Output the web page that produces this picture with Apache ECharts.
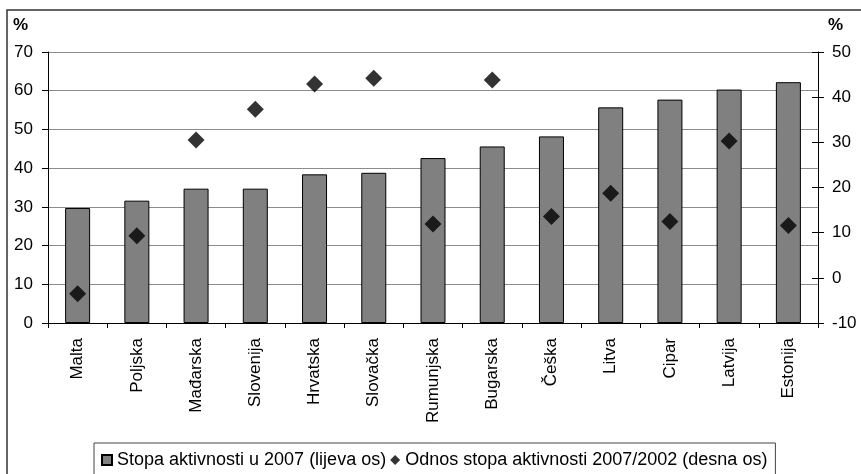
<!DOCTYPE html>
<html>
<head>
<meta charset="utf-8">
<script src="https://cdn.jsdelivr.net/npm/echarts@6/dist/echarts.min.js"></script>
<style>
  html, body { margin: 0; padding: 0; background: #fff; }
  #chart { width: 861px; height: 474px; }
</style>
</head>
<body>
<div id="chart"></div>
<script>
// Countries, ordered by activity rate
const countries = ['Malta', 'Poljska', 'Mađarska', 'Slovenija', 'Hrvatska', 'Slovačka', 'Rumunjska', 'Bugarska', 'Češka', 'Litva', 'Cipar', 'Latvija', 'Estonija'];
// Activity rate in 2007 (left axis, %)
const activityRate2007 = [29.7, 31.6, 34.7, 34.7, 38.4, 38.8, 42.6, 45.6, 48.2, 55.7, 57.7, 60.3, 62.2];
// Ratio of activity rates 2007/2002 (right axis, %)
const rateRatio = [-3.5, 9.3, 30.5, 37.3, 42.9, 44.2, 11.9, 43.8, 13.6, 18.7, 12.5, 30.3, 11.6];
// Axis ranges
const leftTicks = { min: 0, max: 70, step: 10 };
const rightTicks = { min: -10, max: 50, step: 10 };
const seriesNames = ['Stopa aktivnosti u 2007 (lijeva os)', 'Odnos stopa aktivnosti 2007/2002 (desna os)'];

const FONT = '"Liberation Sans", Arial, sans-serif';
const chart = echarts.init(document.getElementById('chart'), null, { renderer: 'canvas' });

chart.setOption({
  backgroundColor: '#fff',
  animation: false,
  textStyle: { fontFamily: FONT, color: '#000' },
  grid: { left: 48, right: 43, top: 52, bottom: 151, containLabel: false },
  graphic: [
    { type: 'rect', shape: { x: 7, y: 10, width: 900, height: 520 },
      style: { fill: 'none', stroke: '#333', lineWidth: 1.5 }, silent: true, z: 0 },
    { type: 'text', left: 13, top: 17,
      style: { text: '%', font: 'bold 17px ' + FONT, fill: '#000' } },
    { type: 'text', left: 828, top: 17,
      style: { text: '%', font: 'bold 17px ' + FONT, fill: '#000' } }
  ],
  legend: {
    left: 94, top: 443,
    padding: [8, 8, 30, 7],
    borderColor: '#444', borderWidth: 1,
    itemWidth: 10, itemHeight: 10, itemGap: 4,
    textStyle: { fontFamily: FONT, fontSize: 18, color: '#000' },
    data: [
      { name: seriesNames[0], icon: 'rect' },
      { name: seriesNames[1], icon: 'diamond' }
    ]
  },
  xAxis: {
    type: 'category',
    data: countries,
    boundaryGap: true,
    axisLine: { lineStyle: { color: '#000', width: 1 } },
    axisTick: { show: true, length: 5, interval: 0, lineStyle: { color: '#000' } },
    axisLabel: { rotate: 90, margin: 15, interval: 0, fontSize: 17, color: '#000', fontFamily: FONT }
  },
  yAxis: [
    {
      type: 'value', position: 'left',
      min: leftTicks.min, max: leftTicks.max, interval: leftTicks.step,
      axisLine: { show: true, lineStyle: { color: '#000' } },
      axisTick: { show: true, length: 6, lineStyle: { color: '#000' } },
      axisLabel: { fontSize: 17, color: '#000', margin: 15, fontFamily: FONT },
      splitLine: { show: true, lineStyle: { color: '#8c8c8c', width: 1 } }
    },
    {
      type: 'value', position: 'right',
      min: rightTicks.min, max: rightTicks.max, interval: rightTicks.step,
      axisLine: { show: true, lineStyle: { color: '#000' } },
      axisTick: { show: true, length: 6, lineStyle: { color: '#000' } },
      axisLabel: { fontSize: 17, color: '#000', margin: 14, fontFamily: FONT },
      splitLine: { show: false }
    },
    {
      // inner half of the right-axis cross ticks
      type: 'value', position: 'right',
      min: rightTicks.min, max: rightTicks.max, interval: rightTicks.step,
      axisLine: { show: false },
      axisTick: { show: true, inside: true, length: 6, lineStyle: { color: '#000' } },
      axisLabel: { show: false },
      splitLine: { show: false }
    }
  ],
  series: [
    {
      name: seriesNames[0],
      type: 'bar',
      yAxisIndex: 0,
      data: activityRate2007,
      barWidth: 25,
      itemStyle: { color: '#808080', borderColor: '#000', borderWidth: 1 },
      z: 2
    },
    {
      name: seriesNames[1],
      type: 'scatter',
      yAxisIndex: 1,
      data: rateRatio,
      symbol: 'diamond',
      symbolSize: [17, 17],
      itemStyle: { color: '#000' },
      z: 3
    }
  ]
});
</script>
</body>
</html>
